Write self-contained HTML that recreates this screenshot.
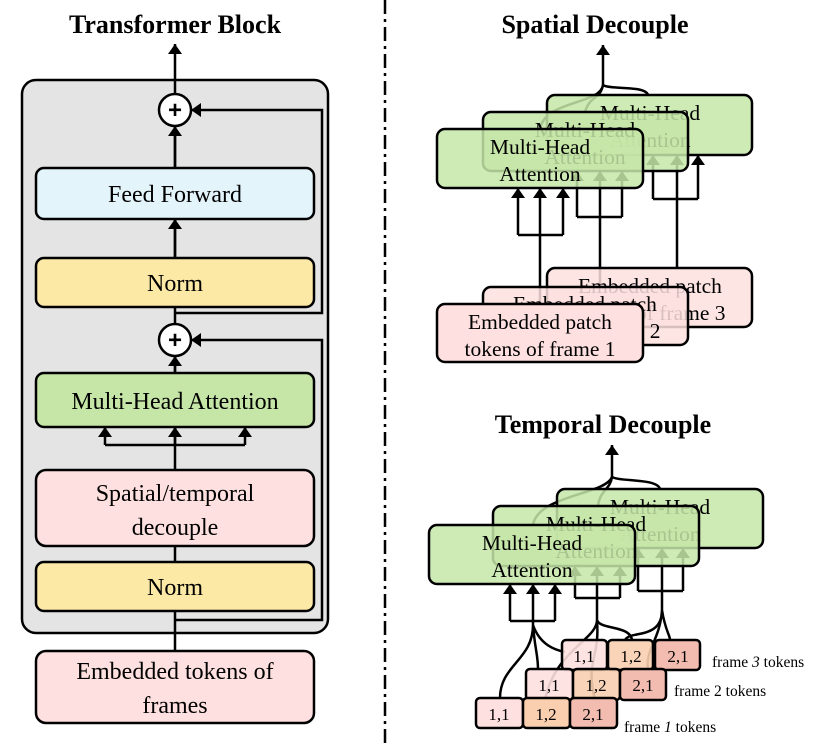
<!DOCTYPE html>
<html><head><style>body{margin:0;background:#fff}svg{display:block}</style></head><body>
<svg width="830" height="743" viewBox="0 0 830 743" xmlns="http://www.w3.org/2000/svg" font-family="Liberation Serif, serif">
<defs>
<marker id="b" viewBox="0 0 10 10" refX="10" refY="5" markerWidth="10" markerHeight="14" orient="auto" markerUnits="userSpaceOnUse" preserveAspectRatio="none"><path d="M0,0L10,5L0,10z" fill="#000"/></marker>
</defs>
<style>.t{font-size:24px;text-anchor:middle}.s{font-size:21.5px;text-anchor:middle}.h{font-weight:bold;font-size:26px;text-anchor:middle}.l{stroke:#000;stroke-width:2.5;fill:none}.bx{stroke:#000;stroke-width:2.5}</style>

<!-- Left -->
<text x="175" y="33" class="h">Transformer Block</text>
<rect x="22" y="80" width="306" height="553" rx="14" fill="#e4e4e4" class="bx"/>
<line x1="175" y1="723" x2="175" y2="44" class="l" marker-end="url(#b)"/>
<line x1="175" y1="168" x2="175" y2="126" class="l" marker-end="url(#b)"/>
<line x1="175" y1="258" x2="175" y2="219" class="l" marker-end="url(#b)"/>
<line x1="175" y1="373" x2="175" y2="356" class="l" marker-end="url(#b)"/>
<polyline points="175,313 322,313 322,110 191,110" class="l" marker-end="url(#b)"/>
<polyline points="175,620 322,620 322,340 191,340" class="l" marker-end="url(#b)"/>
<polyline points="105,445 245,445" class="l"/>
<line x1="105" y1="445" x2="105" y2="427" class="l" marker-end="url(#b)"/>
<line x1="175" y1="445" x2="175" y2="427" class="l" marker-end="url(#b)"/>
<line x1="245" y1="445" x2="245" y2="427" class="l" marker-end="url(#b)"/>
<rect x="36" y="168" width="278" height="51" rx="8" fill="#e3f4fb" class="bx"/>
<text x="175" y="202" class="t">Feed Forward</text>
<rect x="36" y="258" width="278" height="49" rx="8" fill="#fde9a6" class="bx"/>
<text x="175" y="291" class="t">Norm</text>
<rect x="36" y="373" width="278" height="54" rx="8" fill="#c6e6a8" class="bx"/>
<text x="175" y="409" class="t">Multi-Head Attention</text>
<rect x="36" y="470" width="278" height="76" rx="10" fill="#fde0df" class="bx"/>
<text x="175" y="501" class="t">Spatial/temporal</text>
<text x="175" y="535" class="t">decouple</text>
<rect x="36" y="562" width="278" height="49" rx="8" fill="#fde9a6" class="bx"/>
<text x="175" y="595" class="t">Norm</text>
<rect x="36" y="651" width="278" height="72" rx="10" fill="#fde0df" class="bx"/>
<text x="175" y="679" class="t">Embedded tokens of</text>
<text x="175" y="713" class="t">frames</text>
<circle cx="175" cy="110" r="16" fill="#fff" class="bx"/>
<text x="175" y="118" class="t" font-weight="bold" font-family="Liberation Sans">+</text>
<circle cx="175" cy="340" r="16" fill="#fff" class="bx"/>
<text x="175" y="348" class="t" font-weight="bold" font-family="Liberation Sans">+</text>

<line x1="385" y1="0" x2="385" y2="743" stroke="#000" stroke-width="2.5" stroke-dasharray="14,5,3,5"/>

<!-- Spatial -->
<text x="595" y="33" class="h">Spatial Decouple</text>
<path d="M603,85 L603,45" class="l" marker-end="url(#b)"/>
<path d="M540,129 C545,100 600,105 603,85 M585,112 C590,95 600,100 603,85 M648,95 C645,85 610,90 603,85" class="l"/>
<path d="M677,268 L677,199 M653,199 L698,199" class="l"/>
<line x1="653" y1="199" x2="653" y2="155" class="l" marker-end="url(#b)"/>
<line x1="677" y1="199" x2="677" y2="155" class="l" marker-end="url(#b)"/>
<line x1="698" y1="199" x2="698" y2="155" class="l" marker-end="url(#b)"/>
<rect x="547" y="95" width="205" height="60" rx="8" fill="#c6e6a8" fill-opacity="0.85" class="bx"/>
<text x="650" y="120" class="s">Multi-Head</text><text x="650" y="147" class="s">Attention</text>
<path d="M600,287 L600,217 M577,217 L622,217" class="l"/>
<line x1="577" y1="217" x2="577" y2="171" class="l" marker-end="url(#b)"/>
<line x1="600" y1="217" x2="600" y2="171" class="l" marker-end="url(#b)"/>
<line x1="622" y1="217" x2="622" y2="171" class="l" marker-end="url(#b)"/>
<rect x="483" y="112" width="205" height="59" rx="8" fill="#c6e6a8" fill-opacity="0.85" class="bx"/>
<text x="585" y="137" class="s">Multi-Head</text><text x="585" y="164" class="s">Attention</text>
<rect x="437" y="129" width="206" height="59" rx="8" fill="#c6e6a8" fill-opacity="0.85" class="bx"/>
<text x="540" y="154" class="s">Multi-Head</text><text x="540" y="181" class="s">Attention</text>
<path d="M540,304 L540,235 M518,235 L563,235" class="l"/>
<line x1="518" y1="235" x2="518" y2="188" class="l" marker-end="url(#b)"/>
<line x1="540" y1="235" x2="540" y2="188" class="l" marker-end="url(#b)"/>
<line x1="563" y1="235" x2="563" y2="188" class="l" marker-end="url(#b)"/>
<rect x="547" y="268" width="205" height="59" rx="8" fill="#fde0df" fill-opacity="0.85" class="bx"/>
<text x="650" y="293" class="s">Embedded patch</text><text x="650" y="320" class="s">tokens of frame 3</text>
<rect x="483" y="287" width="205" height="58" rx="8" fill="#fde0df" fill-opacity="0.85" class="bx"/>
<text x="585" y="311" class="s">Embedded patch</text><text x="585" y="338" class="s">tokens of frame 2</text>
<rect x="437" y="304" width="206" height="58" rx="8" fill="#fde0df" class="bx"/>
<text x="540" y="329" class="s">Embedded patch</text><text x="540" y="356" class="s">tokens of frame 1</text>

<!-- Temporal -->
<text x="603" y="433" class="h">Temporal Decouple</text>
<path d="M612,477 L612,445" class="l" marker-end="url(#b)"/>
<path d="M533,525 C538,495 605,495 612,477 M598,506 C600,490 610,490 612,477 M660,489 C657,478 620,482 612,477" class="l"/>
<path d="M638,591 L683,591" class="l"/>
<line x1="638" y1="591" x2="638" y2="548" class="l" marker-end="url(#b)"/>
<line x1="662" y1="591" x2="662" y2="548" class="l" marker-end="url(#b)"/>
<line x1="683" y1="591" x2="683" y2="548" class="l" marker-end="url(#b)"/>
<rect x="557" y="489" width="206" height="59" rx="8" fill="#c6e6a8" fill-opacity="0.85" class="bx"/>
<text x="660" y="514" class="s">Multi-Head</text><text x="660" y="541" class="s">Attention</text>
<path d="M575,598 L620,598" class="l"/>
<line x1="575" y1="598" x2="575" y2="566" class="l" marker-end="url(#b)"/>
<line x1="597" y1="598" x2="597" y2="566" class="l" marker-end="url(#b)"/>
<line x1="620" y1="598" x2="620" y2="566" class="l" marker-end="url(#b)"/>
<rect x="493" y="506" width="206" height="60" rx="8" fill="#c6e6a8" fill-opacity="0.85" class="bx"/>
<text x="596" y="531" class="s">Multi-Head</text><text x="596" y="558" class="s">Attention</text>
<rect x="429" y="525" width="206" height="59" rx="8" fill="#c6e6a8" fill-opacity="0.85" class="bx"/>
<text x="532" y="550" class="s">Multi-Head</text><text x="532" y="577" class="s">Attention</text>
<path d="M510,621 L555,621" class="l"/>
<line x1="510" y1="621" x2="510" y2="584" class="l" marker-end="url(#b)"/>
<line x1="533" y1="621" x2="533" y2="584" class="l" marker-end="url(#b)"/>
<line x1="555" y1="621" x2="555" y2="584" class="l" marker-end="url(#b)"/>
<path d="M533,621 L533,625 C533,660 500,665 500,698 M533,625 C535,650 538,655 538,669 M533,625 C540,645 555,650 565,652" class="l"/>
<path d="M597,598 L597,620 C597,640 555,650 545,700 M597,620 C600,660 585,660 595,700 M597,620 C600,630 630,625 632,640" class="l"/>
<path d="M662,591 L662,610 C662,640 630,630 625,640 M662,610 C660,640 645,650 648,669 M662,610 C665,630 670,635 670,640" class="l"/>
<g font-size="17" text-anchor="middle">
<rect x="562" y="640" width="45" height="30" rx="4" fill="#fde0df" fill-opacity="0.9" class="bx"/><text x="584" y="662">1,1</text>
<rect x="608" y="640" width="45" height="30" rx="4" fill="#f9cfb0" fill-opacity="0.9" class="bx"/><text x="631" y="662">1,2</text>
<rect x="655" y="640" width="45" height="30" rx="4" fill="#f2bcb0" class="bx"/><text x="678" y="662">2,1</text>
<rect x="526" y="669" width="47" height="31" rx="4" fill="#fde0df" fill-opacity="0.9" class="bx"/><text x="549" y="691">1,1</text>
<rect x="573" y="669" width="47" height="31" rx="4" fill="#f9cfb0" fill-opacity="0.9" class="bx"/><text x="596" y="691">1,2</text>
<rect x="620" y="669" width="46" height="31" rx="4" fill="#f2bcb0" class="bx"/><text x="643" y="691">2,1</text>
<rect x="476" y="698" width="47" height="30" rx="4" fill="#fde0df" class="bx"/><text x="499" y="720">1,1</text>
<rect x="523" y="698" width="47" height="30" rx="4" fill="#f9cfb0" class="bx"/><text x="546" y="720">1,2</text>
<rect x="570" y="698" width="47" height="30" rx="4" fill="#f2bcb0" class="bx"/><text x="593" y="720">2,1</text>
</g>
<g font-size="15.5">
<text x="712" y="667">frame <tspan font-style="italic">3</tspan> tokens</text>
<text x="674" y="696">frame 2 tokens</text>
<text x="624" y="732">frame <tspan font-style="italic">1</tspan> tokens</text>
</g>
</svg>
</body></html>
